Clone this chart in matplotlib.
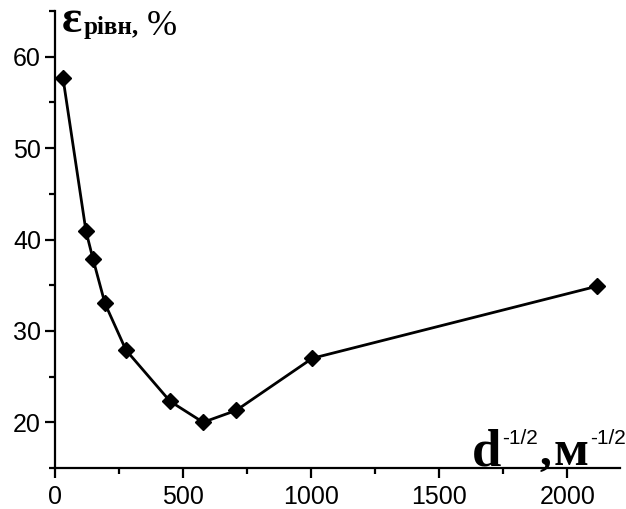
import matplotlib
matplotlib.use("Agg")
import matplotlib.pyplot as plt
from matplotlib.ticker import MultipleLocator

# d^-1/2 (m^-1/2) and equilibrium strain (%)
d_inv_sqrt = [31, 121, 148, 195, 277, 449, 578, 707, 1004, 2117]
eps_eq = [57.7, 40.9, 37.9, 33.0, 27.9, 22.3, 20.0, 21.3, 27.0, 34.9]

W, H = 626, 509
fig = plt.figure(figsize=(W / 100, H / 100), dpi=100)
ax = fig.add_axes([55 / W, 1 - 468 / H, (620 - 55) / W, (468 - 11) / H])

ax.plot(d_inv_sqrt, eps_eq, color="black", lw=2.0, marker="D",
        markersize=8, markerfacecolor="black", markeredgecolor="black")

ax.set_xlim(0, 2205)
ax.set_ylim(15, 65)
ax.xaxis.set_major_locator(MultipleLocator(500))
ax.xaxis.set_minor_locator(MultipleLocator(250))
ax.yaxis.set_minor_locator(MultipleLocator(5))
ax.set_yticks([20, 30, 40, 50, 60])

for side in ("top", "right"):
    ax.spines[side].set_visible(False)
for side in ("left", "bottom"):
    ax.spines[side].set_linewidth(1.6)

ax.tick_params(which="major", direction="out", length=7, width=1.6,
               labelsize=18, pad=3)
ax.tick_params(axis="x", which="major", pad=5)
ax.tick_params(which="minor", direction="out", length=4, width=1.6)
for lab in ax.get_xticklabels() + ax.get_yticklabels():
    lab.set_family("Liberation Sans")

serif = "Liberation Serif"
sans = "Liberation Sans"
renderer = fig.canvas.get_renderer()


def label_run(x0, y0, pieces):
    """Place text pieces one after another, starting at pixel (x0, y0).

    Each piece is (text, dy, gap, kwargs): dy raises the baseline in pixels,
    gap adds space before the piece.
    """
    x = x0
    for text, dy, gap, kw in pieces:
        x += gap
        t = fig.text(x / W, 1 - (y0 - dy) / H, text, va="baseline",
                     ha="left", **kw)
        x = t.get_window_extent(renderer).x1


bold_serif = dict(family=serif, weight="bold")

# y-axis label: ε_рівн, %
label_run(62, 32, [
    ("ε", 0, 0, dict(bold_serif, fontsize=34)),
    ("рівн,", -2, 1, dict(bold_serif, fontsize=18)),
    ("%", -3, 8, dict(family=serif, fontsize=26)),
])

# x-axis label: d^-1/2, м^-1/2
label_run(472, 465, [
    ("d", 0, 0, dict(bold_serif, fontsize=38)),
    ("-1/2", 21, 1, dict(family=sans, fontsize=15)),
    (",", 0, 1, dict(bold_serif, fontsize=34)),
    ("м", 0, 3, dict(bold_serif, fontsize=37)),
    ("-1/2", 21, 1, dict(family=sans, fontsize=15)),
])

fig.savefig("out.png", dpi=100)
